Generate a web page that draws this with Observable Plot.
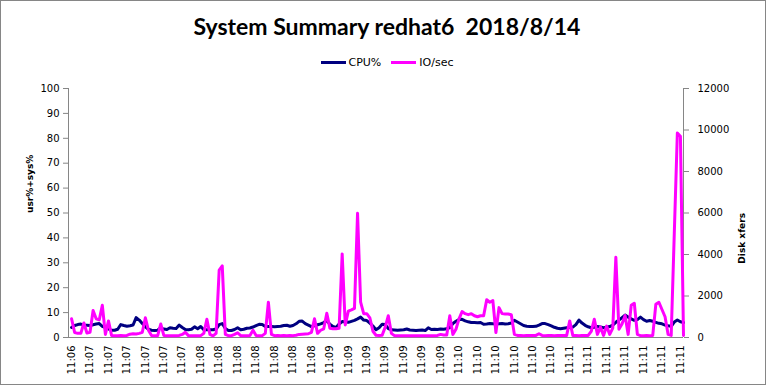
<!DOCTYPE html>
<html><head><meta charset="utf-8">
<script src="https://cdn.jsdelivr.net/npm/d3@7"></script>
<script src="https://cdn.jsdelivr.net/npm/@observablehq/plot@0.6"></script>
<style>
html,body{margin:0;padding:0;background:#fff;}
#chart{position:relative;width:766px;height:385px;overflow:hidden;background:#fff;}
#chart svg{position:absolute;left:0;top:0;}
#frame{position:absolute;left:0;top:0;width:766px;height:385px;box-sizing:border-box;border:1px solid #868686;pointer-events:none;}
#title{position:absolute;left:4px;width:766px;top:13px;text-align:center;font:700 23px Lato,"DejaVu Sans",sans-serif;line-height:26px;color:#000;white-space:pre;}
#legend{position:absolute;left:4px;width:766px;top:54px;height:16px;display:flex;justify-content:center;align-items:center;font:11px "DejaVu Sans",sans-serif;color:#000;}
.sw{display:inline-block;width:25px;height:3px;margin-right:3px;}
.item{display:flex;align-items:center;margin:0 5px;}
</style>
</head><body>
<div id="chart">
  <div id="title">System Summary redhat6  2018/8/14</div>
  <div id="legend"></div>
  <div id="frame"></div>
</div>
<script>
const seriesNames = ["CPU%", "IO/sec"];
const seriesColors = ["#000080", "#FF00FF"];
const yLeftLabel = "usr%+sys%";
const yRightLabel = "Disk xfers";
const tickLabels = ["11:06",
  "11:07","11:07","11:07","11:07","11:07","11:07",
  "11:08","11:08","11:08","11:08","11:08","11:08","11:08",
  "11:09","11:09","11:09","11:09","11:09","11:09","11:09",
  "11:10","11:10","11:10","11:10","11:10","11:10",
  "11:11","11:11","11:11","11:11","11:11","11:11","11:11"];
const labelStep = 6;
const cpuTicks = [0,10,20,30,40,50,60,70,80,90,100];
const ioTicks = [0,2000,4000,6000,8000,10000,12000];
const cpu = [
 4.0,4.8,5.2,5.4,5.0,4.9,4.8,5.1,5.4,5.6,
 4.5,4.0,3.5,2.9,2.9,3.3,5.2,4.8,4.5,4.7,
 5.0,8.0,7.0,5.6,4.3,3.3,2.9,2.8,2.9,3.9,
 3.4,3.2,3.9,3.7,3.6,5.0,4.0,3.2,3.1,3.3,
 4.3,3.5,4.4,3.1,3.1,3.1,3.1,3.4,5.2,5.6,
 3.6,2.8,2.8,3.2,3.9,3.1,3.3,3.7,3.8,4.2,
 4.8,5.3,5.2,4.4,4.4,4.4,4.3,4.4,4.5,4.8,
 4.9,4.5,4.8,5.5,6.5,6.6,5.6,5.0,4.4,4.7,
 5.1,5.5,6.0,6.8,5.3,4.4,4.0,5.4,6.4,6.3,
 6.1,6.5,6.9,7.5,8.2,7.0,6.8,5.8,4.6,3.1,
 3.9,5.3,5.2,3.6,3.1,3.0,2.9,3.0,3.1,3.4,
 3.0,2.9,2.8,2.9,3.0,2.8,3.9,3.2,3.3,3.2,
 3.4,3.3,3.5,4.0,5.6,6.5,7.2,7.3,6.7,6.3,
 6.0,6.0,5.9,6.0,5.3,5.4,5.6,5.5,5.4,5.5,
 5.6,5.4,5.5,5.8,6.9,6.2,5.5,4.8,4.5,4.4,
 4.4,4.5,5.0,5.6,5.6,5.2,4.7,4.1,3.7,3.5,
 3.7,3.9,4.0,4.2,5.2,7.0,5.8,4.9,4.3,3.9,
 4.1,4.4,4.2,3.9,4.1,4.4,5.0,6.1,7.0,8.0,
 9.0,8.2,7.5,6.9,7.2,8.2,7.2,6.5,6.8,6.5,
 6.1,5.7,5.5,5.0,4.7,4.5,6.2,7.0,6.3,6.0];
const io = [
 900,240,200,200,700,220,250,1300,900,850,
 1550,150,800,100,90,90,100,90,100,160,
 180,170,200,250,950,350,100,90,90,650,
 100,90,80,90,90,100,150,250,90,80,
 80,90,90,200,880,150,80,200,3250,3450,
 150,90,90,150,230,90,90,90,100,350,
 100,90,90,200,1700,150,90,100,90,100,
 90,100,90,110,150,160,170,180,250,900,
 200,350,420,1170,450,420,420,450,4030,600,
 1270,1330,1400,5990,1700,1150,1150,950,300,110,
 100,110,500,1050,200,90,80,80,90,80,
 80,90,80,80,90,80,80,90,80,100,
 150,120,120,1050,150,400,900,1250,1150,1100,
 1150,1050,1000,1050,1050,1820,1700,1780,240,1440,
 1150,1130,1130,1100,150,100,100,90,100,100,
 100,100,180,100,90,100,100,90,100,100,
 100,100,800,100,100,90,100,100,100,300,
 880,150,500,100,550,150,450,3870,400,650,
 1060,150,1550,1650,150,90,90,100,90,100,
 1600,1700,1350,1000,150,100,5000,9850,9700,100];

const cpuMax = cpuTicks[cpuTicks.length - 1];
const ioMax = ioTicks[ioTicks.length - 1];
const k = ioMax / cpuMax;
const axisColor = "#868686";
const xTicks = tickLabels.map((_, i) => i * labelStep);

const plot = Plot.plot({
  width: 766, height: 385,
  marginTop: 88, marginBottom: 48, marginLeft: 68, marginRight: 83,
  style: {fontFamily: "DejaVu Sans", fontSize: "10px", color: "#000", background: "transparent"},
  x: {domain: [-1, cpu.length - 1], axis: null},
  y: {domain: [0, cpuMax], axis: null},
  marks: [
    Plot.ruleX([-1, cpu.length - 1], {stroke: axisColor}),
    Plot.ruleY([0], {stroke: axisColor}),
    Plot.axisY(cpuTicks, {anchor: "left", tickSize: 5, tickPadding: 4, stroke: axisColor, fill: "#000", label: null}),
    Plot.axisY(ioTicks.map(v => v / k), {anchor: "right", tickSize: 5, tickPadding: 9, stroke: axisColor, fill: "#000", label: null,
      tickFormat: d => String(Math.round(d * k))}),
    Plot.axisX(xTicks, {anchor: "bottom", tickSize: 0, tickPadding: 8, tickRotate: -90, fill: "#000", label: null,
      tickFormat: d => tickLabels[Math.round(d / labelStep)]}),
    Plot.line(cpu, {x: (d, i) => i, y: d => d, stroke: seriesColors[0], strokeWidth: 3}),
    Plot.line(io, {x: (d, i) => i, y: d => d / k, stroke: seriesColors[1], strokeWidth: 3}),
    Plot.text([yLeftLabel], {frameAnchor: "left", dx: -38, rotate: -90, fontWeight: "bold", fontSize: 9, fill: "#000"}),
    Plot.text([yRightLabel], {frameAnchor: "right", dx: 59, rotate: -90, fontWeight: "bold", fontSize: 9, fill: "#000"})
  ]
});
const chart = document.getElementById("chart");
chart.insertBefore(plot, chart.firstChild);

const legend = document.getElementById("legend");
seriesNames.forEach((name, i) => {
  const item = document.createElement("div");
  item.className = "item";
  const sw = document.createElement("span");
  sw.className = "sw";
  sw.style.background = seriesColors[i];
  item.appendChild(sw);
  item.appendChild(document.createTextNode(name));
  legend.appendChild(item);
});
</script>
</body></html>
